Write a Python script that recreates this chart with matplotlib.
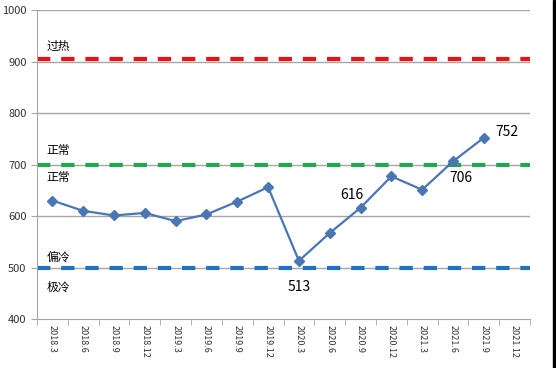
import matplotlib
matplotlib.use("Agg")
import matplotlib.pyplot as plt
from matplotlib.patches import Rectangle

plt.rcParams['font.family'] = ['Noto Sans CJK SC', 'DejaVu Sans']

categories = ["2018.3", "2018.6", "2018.9", "2018.12", "2019.3", "2019.6", "2019.9",
              "2019.12", "2020.3", "2020.6", "2020.9", "2020.12", "2021.3", "2021.6",
              "2021.9", "2021.12"]
values = [630, 610, 601, 606, 590, 603, 628, 656, 513, 567, 616, 677, 651, 706, 752]
hot_level = 905
normal_level = 700
cold_level = 500
yticks = [400, 500, 600, 700, 800, 900, 1000]
labelled = {8: ("513", "below"), 10: ("616", "aboveleft"), 13: ("706", "belowright"), 14: ("752", "right")}

fig = plt.figure(figsize=(5.56, 3.68), dpi=100)
ax = fig.add_axes([37/556, 1-319/368, (530-37)/556, (319-10)/368])

n = len(categories)
ax.set_xlim(-0.5, n - 0.5)
ax.set_ylim(400, 1000)
ax.set_yticks(yticks)
for y in yticks[1:]:
    ax.axhline(y, color="#a6a6a6", lw=1, zorder=1)

dash = dict(lw=3, linestyle=(0, (3.2, 2.6)), zorder=2)
ax.axhline(hot_level, color="#ee1111", **dash)
ax.axhline(normal_level, color="#20a850", **dash)
ax.axhline(cold_level, color="#1f72c0", **dash)

xs = list(range(len(values)))
ax.plot(xs, values, color="#4a76b4", lw=1.6, marker="D", ms=5, zorder=3)

offsets = {"below": (0, -19), "aboveleft": (-6, 9), "belowright": (6, -12), "right": (17, 4)}
for i, (txt, pos) in labelled.items():
    ax.annotate(txt, (i, values[i]), xytext=offsets[pos], textcoords="offset points",
                ha="center", va="center", fontsize=10)

ax.text(-0.2, hot_level + 25, "过热", fontsize=8.5, ha="left", va="center")
ax.text(-0.2, normal_level + 27, "正常", fontsize=8.5, ha="left", va="center")
ax.text(-0.2, normal_level - 25, "正常", fontsize=8.5, ha="left", va="center")
ax.text(-0.2, cold_level + 21, "偏冷", fontsize=8.5, ha="left", va="center")
ax.text(-0.2, cold_level - 39, "极冷", fontsize=8.5, ha="left", va="center")

ax.set_xticks(range(n))
ax.set_xticklabels(categories, rotation=270, fontsize=6.5, color="#333333")
ax.set_xticks([i - 0.5 for i in range(n + 1)], minor=True)
ax.tick_params(axis="x", which="major", length=0, pad=4)
ax.tick_params(axis="x", which="minor", length=4, color="#a6a6a6")
ax.tick_params(axis="y", length=4, color="#a6a6a6", labelsize=8, labelcolor="#333333")

for s in ["top", "right"]:
    ax.spines[s].set_visible(False)
for s in ["left", "bottom"]:
    ax.spines[s].set_color("#a6a6a6")

fig.patches.append(Rectangle((553/556, 0), 3/556, 1, transform=fig.transFigure, color="black", zorder=10))

fig.savefig("out.png", dpi=100)
